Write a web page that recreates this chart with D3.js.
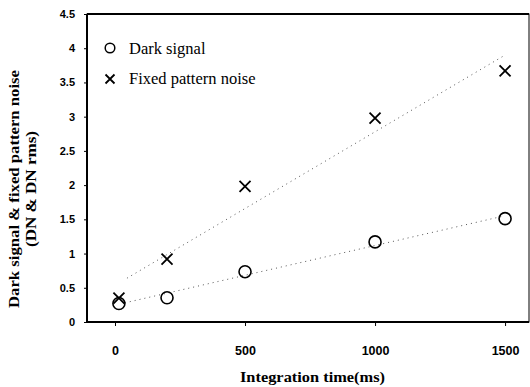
<!DOCTYPE html>
<html><head><meta charset="utf-8">
<script src="https://cdn.jsdelivr.net/npm/d3@7"></script>
<style>body{margin:0;background:#fff}svg{display:block}</style>
</head><body>
<svg id="c" width="530" height="387"></svg>
<script>
const timesMs = [15, 200, 500, 1000, 1500];
const darkSignal = [0.27, 0.355, 0.735, 1.17, 1.51];
const fixedPatternNoise = [0.35, 0.92, 1.98, 2.98, 3.67];
const darkTrendX = [38, 1491];
const darkTrendY = [0.28, 1.545];
const fpnTrendX = [46, 1491];
const fpnTrendY = [0.64, 3.88];
const xTicks = [0, 500, 1000, 1500];
const yTicks = [0, 0.5, 1, 1.5, 2, 2.5, 3, 3.5, 4, 4.5];
const yTickLabels = ["0", "0.5", "1", "1.5", "2", "2.5", "3", "3.5", "4", "4.5"];
const legendLabels = ["Dark signal", "Fixed pattern noise"];

const svg = d3.select("#c");
const L = 87, R = 529, T = 14, B = 322;
const x = d3.scaleLinear().domain([-107.7, 1592]).range([L, R]);
const y = d3.scaleLinear().domain([0, 4.5]).range([B, T]);
const serif = "Liberation Serif, Times New Roman, serif";
const sans = "Liberation Sans, Arial, sans-serif";

// frame
svg.append("rect").attr("x", L).attr("y", T).attr("width", R - L).attr("height", B - T)
  .attr("fill", "none").attr("stroke", "#000").attr("stroke-width", 1);
svg.append("line").attr("x1", L).attr("x2", L).attr("y1", T).attr("y2", B).attr("stroke", "#000").attr("stroke-width", 2);
svg.append("line").attr("x1", L).attr("x2", R).attr("y1", B).attr("y2", B).attr("stroke", "#000").attr("stroke-width", 2);
svg.append("line").attr("x1", L).attr("x2", R).attr("y1", T).attr("y2", T).attr("stroke", "#000").attr("stroke-width", 2);

// axes
const yAxis = d3.axisLeft(y).tickValues(yTicks).tickSize(3).tickPadding(9)
  .tickFormat((d, i) => yTickLabels[i]);
const gy = svg.append("g").attr("transform", `translate(${L},0)`).call(yAxis);
gy.select(".domain").remove();
gy.selectAll("text").attr("font-family", sans).attr("font-weight", "bold").attr("font-size", 11).attr("fill", "#000");

const xAxis = d3.axisBottom(x).tickValues(xTicks).tickSize(4).tickPadding(20).tickFormat(d3.format("d"));
const gx = svg.append("g").attr("transform", `translate(0,${B})`).call(xAxis);
gx.select(".domain").remove();
gx.selectAll("text").attr("font-family", sans).attr("font-weight", "bold").attr("font-size", 12.5).attr("fill", "#000");

// trend lines
const line = d3.line().x(d => x(d[0])).y(d => y(d[1]));
svg.append("path").datum(d3.zip(darkTrendX, darkTrendY)).attr("d", line)
  .attr("fill", "none").attr("stroke", "#555").attr("stroke-width", 1).attr("stroke-dasharray", "1,4");
svg.append("path").datum(d3.zip(fpnTrendX, fpnTrendY)).attr("d", line)
  .attr("fill", "none").attr("stroke", "#555").attr("stroke-width", 1).attr("stroke-dasharray", "1,4");

// markers
svg.append("g").selectAll("circle").data(d3.zip(timesMs, darkSignal)).join("circle")
  .attr("cx", d => x(d[0])).attr("cy", d => y(d[1])).attr("r", 6)
  .attr("fill", "none").attr("stroke", "#000").attr("stroke-width", 1.6);
const cross = (g, cx, cy, s) => {
  g.append("path").attr("d", `M${cx - s},${cy - s}L${cx + s},${cy + s}M${cx - s},${cy + s}L${cx + s},${cy - s}`)
    .attr("stroke", "#000").attr("stroke-width", 1.8).attr("fill", "none");
};
const gc = svg.append("g");
d3.zip(timesMs, fixedPatternNoise).forEach(d => cross(gc, x(d[0]), y(d[1]), 5.5));

// legend
svg.append("circle").attr("cx", 110).attr("cy", 48).attr("r", 4.8).attr("fill", "none").attr("stroke", "#000").attr("stroke-width", 1.5);
cross(svg, 110, 79, 4.5);
svg.selectAll(".leg").data(legendLabels).join("text").attr("class", "leg")
  .attr("x", 129).attr("y", (d, i) => 54 + i * 30).text(d => d)
  .attr("font-family", serif).attr("font-size", 16.5).attr("fill", "#000");

// axis titles
svg.append("text").attr("x", 312.5).attr("y", 382).attr("text-anchor", "middle")
  .attr("font-family", serif).attr("font-weight", "bold").attr("font-size", 15)
  .attr("textLength", 145).attr("lengthAdjust", "spacingAndGlyphs")
  .text("Integration time(ms)");
const yt = svg.append("g").attr("transform", "translate(0,189) rotate(-90)");
yt.append("text").attr("x", 0).attr("y", 19).attr("text-anchor", "middle")
  .attr("font-family", serif).attr("font-weight", "bold").attr("font-size", 15)
  .attr("textLength", 238).attr("lengthAdjust", "spacingAndGlyphs")
  .text("Dark signal & fixed pattern noise");
yt.append("text").attr("x", 0).attr("y", 36).attr("text-anchor", "middle")
  .attr("font-family", serif).attr("font-weight", "bold").attr("font-size", 14)
  .attr("textLength", 116).attr("lengthAdjust", "spacingAndGlyphs")
  .text("(DN & DN rms)");
</script>
</body></html>
